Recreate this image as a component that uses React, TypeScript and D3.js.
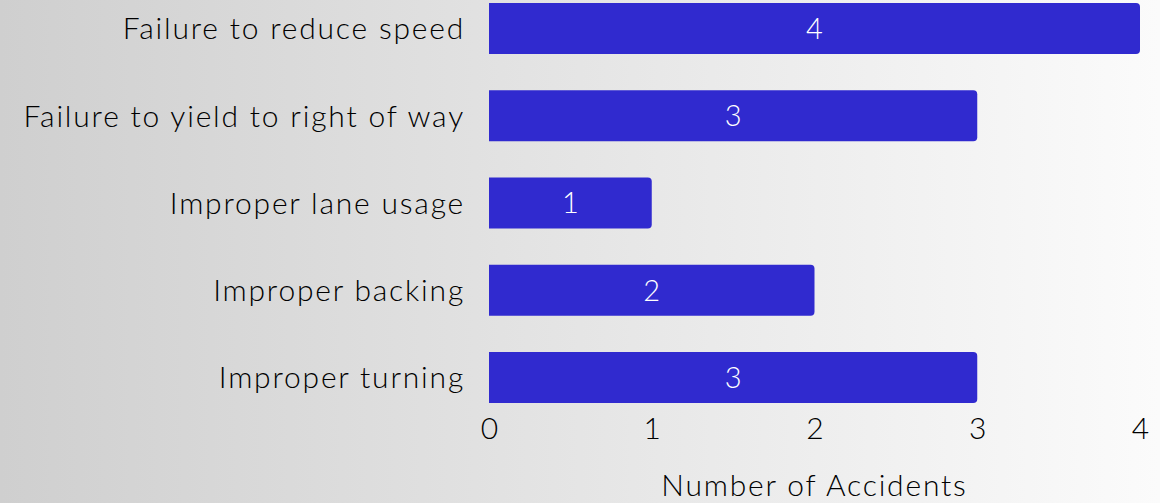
import { useEffect, useRef } from "react";
import * as d3 from "d3";

const causes = [
  "Failure to reduce speed",
  "Failure to yield to right of way",
  "Improper lane usage",
  "Improper backing",
  "Improper turning",
];
const accidents = [4, 3, 1, 2, 3];
const xTicks = [0, 1, 2, 3, 4];
const xTitle = "Number of Accidents";

const W = 1160;
const H = 503;
const FONT = "Lato, 'Open Sans', sans-serif";

const App = () => {
  const svgRef = useRef<SVGSVGElement>(null);

  useEffect(() => {
    if (!svgRef.current) return;
    const svg = d3.select(svgRef.current);
    svg.selectAll("*").remove();

    // background gradient
    const defs = svg.append("defs");
    const grad = defs
      .append("linearGradient")
      .attr("id", "bg")
      .attr("x1", "0%")
      .attr("x2", "100%")
      .attr("y1", "0%")
      .attr("y2", "0%");
    grad.append("stop").attr("offset", "0%").attr("stop-color", "#cfcfcf");
    grad.append("stop").attr("offset", "100%").attr("stop-color", "#fbfbfb");
    svg.append("rect").attr("width", W).attr("height", H).attr("fill", "url(#bg)");

    const x = d3.scaleLinear().domain([0, 4]).range([489, 1140]);
    const y = d3
      .scaleBand<string>()
      .domain(causes)
      .range([-15.1, 421.1])
      .paddingInner(0.415)
      .paddingOuter(0.2075);

    const bw = y.bandwidth();
    const r = 4;

    // bars, rounded on the right end only
    svg
      .append("g")
      .selectAll("path")
      .data(causes)
      .join("path")
      .attr("fill", "#302acf")
      .attr("d", (d, i) => {
        const x0 = x(0);
        const x1 = x(accidents[i]);
        const y0 = y(d)!;
        const y1 = y0 + bw;
        return `M${x0},${y0}H${x1 - r}Q${x1},${y0} ${x1},${y0 + r}V${y1 - r}Q${x1},${y1} ${x1 - r},${y1}H${x0}Z`;
      });

    // value labels
    svg
      .append("g")
      .selectAll("text")
      .data(causes)
      .join("text")
      .attr("x", (d, i) => (x(0) + x(accidents[i])) / 2)
      .attr("y", (d) => y(d)! + bw / 2)
      .attr("dy", "0.36em")
      .attr("text-anchor", "middle")
      .attr("fill", "#ffffff")
      .attr("font-family", FONT)
      .attr("font-weight", 300)
      .attr("font-size", 29)
      .text((d, i) => accidents[i]);

    // category labels
    svg
      .append("g")
      .selectAll("text")
      .data(causes)
      .join("text")
      .attr("x", 465)
      .attr("y", (d) => y(d)! + bw / 2)
      .attr("dy", "0.36em")
      .attr("text-anchor", "end")
      .attr("fill", "#000")
      .attr("font-family", FONT)
      .attr("font-weight", 300)
      .attr("font-size", 30)
      .attr("letter-spacing", 1.8)
      .text((d) => d);

    // x axis tick labels
    const axis = svg
      .append("g")
      .attr("transform", "translate(0,418)")
      .call(d3.axisBottom(x).tickValues(xTicks).tickSize(0).tickPadding(0).tickFormat(d3.format("d")));
    axis.select(".domain").remove();
    axis
      .selectAll("text")
      .attr("dy", "0.71em")
      .attr("font-family", FONT)
      .attr("font-weight", 300)
      .attr("font-size", 30)
      .attr("fill", "#000");

    // axis title
    svg
      .append("text")
      .attr("x", (x(0) + x(4)) / 2)
      .attr("y", 496)
      .attr("text-anchor", "middle")
      .attr("font-family", FONT)
      .attr("font-weight", 300)
      .attr("font-size", 30)
      .attr("letter-spacing", 1.8)
      .attr("fill", "#000")
      .text(xTitle);
  }, []);

  return (
    <div style={{ position: "absolute", left: 0, top: 0, width: W, height: H, overflow: "hidden" }}>
      <svg ref={svgRef} width={W} height={H} style={{ display: "block" }} />
    </div>
  );
};

export default App;
